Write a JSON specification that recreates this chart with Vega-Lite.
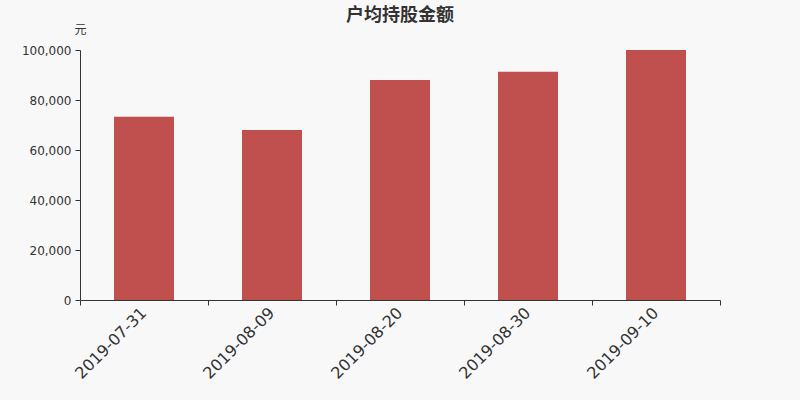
{
  "$schema": "https://vega.github.io/schema/vega-lite/v6.json",
  "width": 640,
  "height": 250,
  "autosize": {"type": "none"},
  "padding": {"left": 80, "top": 50, "right": 80, "bottom": 100},
  "background": "#f8f8f8",
  "title": {
    "text": "户均持股金额",
    "anchor": "middle",
    "frame": "group",
    "fontSize": 18,
    "fontWeight": "bold",
    "font": "Noto Sans CJK SC",
    "color": "#333333",
    "offset": -2
  },
  "data": {
    "values": [
      {"date": "2019-07-31", "amount": 73300},
      {"date": "2019-08-09", "amount": 68000},
      {"date": "2019-08-20", "amount": 88000},
      {"date": "2019-08-30", "amount": 91300},
      {"date": "2019-09-10", "amount": 100000}
    ]
  },
  "config": {
    "view": {"stroke": null},
    "axis": {
      "labelFont": "DejaVu Sans",
      "labelColor": "#333333",
      "domainColor": "#333333",
      "tickColor": "#333333",
      "grid": false
    }
  },
  "mark": {"type": "bar", "color": "#c0504d", "width": {"band": 0.46875}},
  "encoding": {
    "x": {
      "field": "date",
      "type": "nominal",
      "scale": {"paddingInner": 0, "paddingOuter": 0},
      "axis": {
        "title": null,
        "labelAngle": -45,
        "labelAlign": "right",
        "labelBaseline": "middle",
        "labelFontSize": 16,
        "labelPadding": 5,
        "bandPosition": 1,
        "tickExtra": true,
        "tickSize": 5
      }
    },
    "y": {
      "field": "amount",
      "type": "quantitative",
      "scale": {"domain": [0, 100000]},
      "axis": {
        "title": "元",
        "titleAngle": 0,
        "titleX": 0,
        "titleY": -14,
        "titleAlign": "center",
        "titleFont": "Noto Sans CJK SC",
        "titleFontWeight": "normal",
        "titleFontSize": 12,
        "titleColor": "#333333",
        "format": ",d",
        "values": [0, 20000, 40000, 60000, 80000, 100000],
        "labelFontSize": 12,
        "tickSize": 5,
        "labelPadding": 4
      }
    }
  }
}
